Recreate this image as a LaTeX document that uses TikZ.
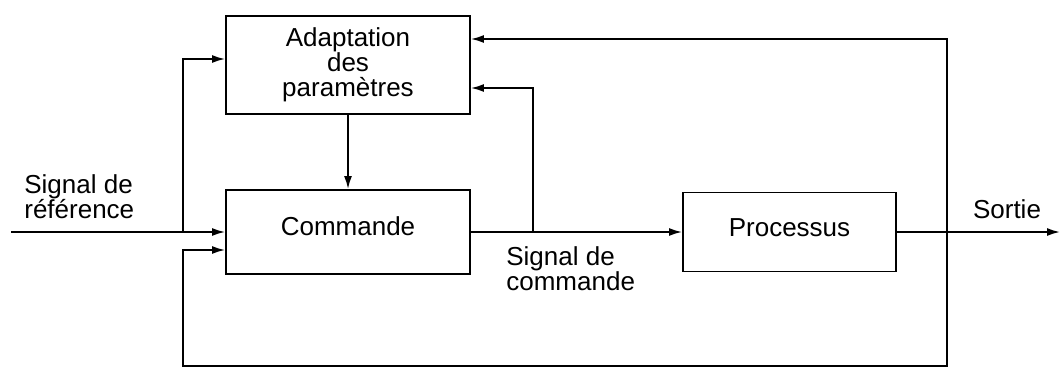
\documentclass[tikz,border=0pt]{standalone}
\usepackage{fontspec}
\setmainfont{Liberation Sans}
\usetikzlibrary{arrows.meta,calc,positioning}

\begin{document}
\begin{tikzpicture}[x=0.02cm,y=-0.02cm,
    every node/.style={font=\fontsize{14.8pt}{14.2pt}\selectfont},
    bloc/.style={draw,line width=1.1pt,minimum width=4.88cm,inner sep=0pt},
    lien/.style={line width=1pt},
    fl/.style={lien,-{Latex[length=2.6mm,width=1.6mm]}},
    etiq/.style={anchor=north west,inner sep=0pt,align=left}]
  \useasboundingbox (0,0) rectangle (1060,368);
  % blocs
  \node[bloc,minimum height=1.96cm,align=center] (adapt) at (348,65) {Adaptation\\des\\paramètres};
  \node[bloc,minimum height=1.68cm,text height=0.38cm,text depth=0.26cm] (cmd) at (348,232) {Commande};
  \node[bloc,minimum width=4.26cm,minimum height=1.58cm,text height=0.38cm,text depth=0.19cm] (proc) at (789.5,232) {Processus};
  % points de branchement
  \coordinate (in) at (11,232);
  \coordinate (b1) at (183,232);
  \coordinate (b2) at (533,232);
  \coordinate (t) at (947,232);
  \coordinate (bas) at (947,366);
  \coordinate (out) at (1060,232);
  % liaisons
  \draw[fl] (in) -- (cmd);
  \draw[fl] (b1) |- ($(adapt.west)+(0,-6)$);
  \draw[fl] (adapt.south) -- (cmd.north);
  \draw[fl] (cmd.east) -- (cmd.east -| proc.west);
  \draw[fl] (b2) |- ($(adapt.east)+(0,23)$);
  \draw[fl] (proc.east) -- (out);
  \draw[fl] (t) |- ($(adapt.east)+(0,-26)$);
  \draw[fl] (t) -- (bas) -| ($(cmd.west)+(-42,18)$) -- ($(cmd.west)+(0,18)$);
  % textes
  \node[etiq] (ref) at (24,174) {Signal de\\référence};
  \node[etiq] (sc) at (506,246) {Signal de\\commande};
  \node[anchor=base,inner sep=0pt] (sortie) at (1007,218) {Sortie};
\end{tikzpicture}
\end{document}
